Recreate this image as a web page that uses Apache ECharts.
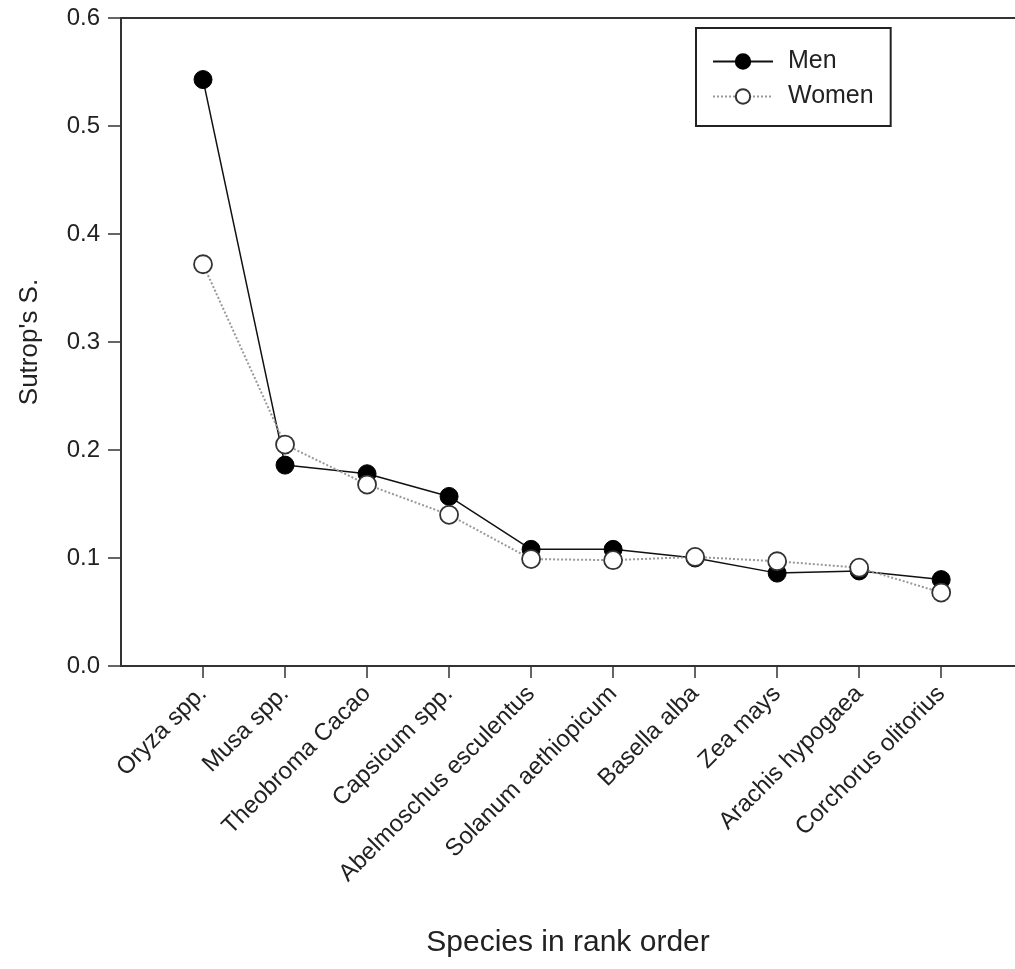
<!DOCTYPE html>
<html>
<head>
<meta charset="utf-8">
<script src="https://cdn.jsdelivr.net/npm/echarts@6/dist/echarts.min.js"></script>
<style>
  html, body { margin: 0; padding: 0; background: #fff; }
  #chart { width: 1015px; height: 969px; }
</style>
</head>
<body>
<div id="chart"></div>
<script>
const species = ['Oryza spp.', 'Musa spp.', 'Theobroma Cacao', 'Capsicum spp.', 'Abelmoschus esculentus',
  'Solanum aethiopicum', 'Basella alba', 'Zea mays', 'Arachis hypogaea', 'Corchorus olitorius'];
const men = [0.543, 0.186, 0.178, 0.157, 0.108, 0.108, 0.100, 0.086, 0.088, 0.080];
const women = [0.372, 0.205, 0.168, 0.140, 0.099, 0.098, 0.101, 0.097, 0.091, 0.068];
const yTicks = ['0.0', '0.1', '0.2', '0.3', '0.4', '0.5', '0.6'];

const FONT = '"Liberation Sans", Arial, sans-serif';
const ink = '#222';

// rank positions 1..10 on a value axis; the axis runs on past the last species
const ranks = species.map((s, i) => i + 1);
const toPoints = arr => arr.map((v, i) => [ranks[i], v]);

const chart = echarts.init(document.getElementById('chart'));
chart.setOption({
  backgroundColor: '#fff',
  animation: false,
  textStyle: { fontFamily: FONT },
  grid: { left: 121, top: 18, right: 0, height: 648 },
  legend: {
    orient: 'vertical',
    left: 696, top: 28,
    padding: [21, 17, 17, 16],
    itemWidth: 60, itemHeight: 18, itemGap: 10,
    borderColor: '#222', borderWidth: 2,
    textStyle: { fontSize: 25, color: ink, fontFamily: FONT, padding: [0, 0, 0, 10] },
    data: ['Men', 'Women']
  },
  xAxis: [
    {
      type: 'value',
      min: 0, max: 10.9,
      name: 'Species in rank order',
      nameLocation: 'middle',
      nameGap: 262,
      nameTextStyle: { fontSize: 30, color: ink, fontFamily: FONT },
      axisLine: { show: true, lineStyle: { color: '#333', width: 2 } },
      axisTick: { show: true, length: 12, customValues: ranks, lineStyle: { color: '#333', width: 1.5 } },
      splitLine: { show: false },
      axisLabel: {
        rotate: 45, margin: 24, fontSize: 24, color: ink, fontFamily: FONT,
        customValues: ranks,
        formatter: v => species[Math.round(v) - 1] || ''
      }
    },
    {
      // top frame line
      type: 'value',
      position: 'top',
      min: 0, max: 10.9,
      axisLine: { show: true, onZero: false, lineStyle: { color: '#333', width: 2 } },
      axisTick: { show: false },
      axisLabel: { show: false },
      splitLine: { show: false }
    }
  ],
  yAxis: {
    type: 'value',
    min: 0, max: 0.6, interval: 0.1,
    name: "Sutrop's S.",
    nameLocation: 'middle',
    nameGap: 78,
    nameTextStyle: { fontSize: 26, color: ink, fontFamily: FONT },
    axisLine: { show: true, lineStyle: { color: '#333', width: 2 } },
    axisTick: { show: true, length: 13, lineStyle: { color: '#333', width: 1.5 } },
    splitLine: { show: false },
    axisLabel: {
      margin: 21, fontSize: 24, color: ink, fontFamily: FONT,
      formatter: v => yTicks[Math.round(v * 10)]
    }
  },
  series: [
    {
      name: 'Men',
      type: 'line',
      data: toPoints(men),
      symbol: 'circle',
      symbolSize: 18,
      itemStyle: { color: '#000', borderColor: '#000', borderWidth: 1 },
      lineStyle: { color: '#111', width: 1.5 },
      z: 2
    },
    {
      name: 'Women',
      type: 'line',
      data: toPoints(women),
      symbol: 'circle',
      symbolSize: 18,
      itemStyle: { color: '#fff', borderColor: '#333', borderWidth: 1.8 },
      lineStyle: { color: '#999', width: 2, type: 'dotted' },
      z: 3
    }
  ]
});
</script>
</body>
</html>
